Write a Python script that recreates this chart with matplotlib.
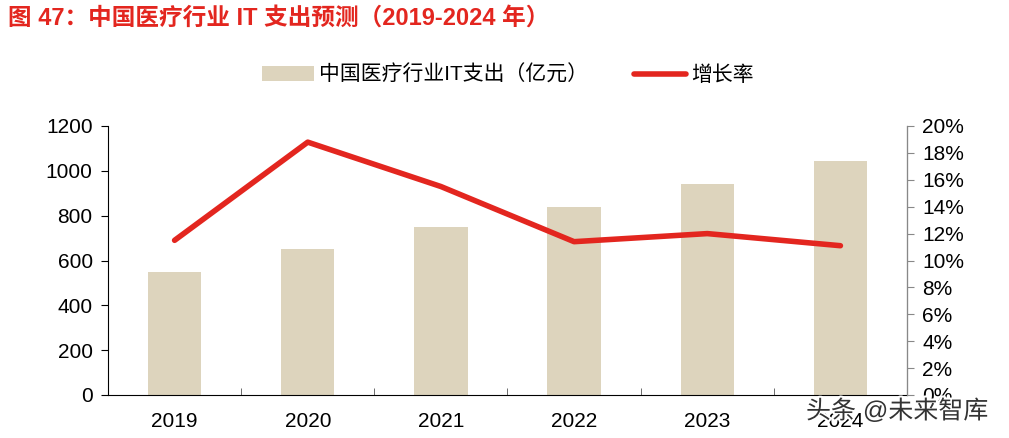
import matplotlib.pyplot as plt
import matplotlib.patheffects as pe
from matplotlib.ticker import PercentFormatter

plt.rcParams['font.family'] = ['Liberation Sans', 'Noto Sans CJK SC']

years = ['2019', '2020', '2021', '2022', '2023', '2024']
spend = [550, 650, 750, 838, 940, 1042]
growth = [11.5, 18.8, 15.5, 11.4, 12.0, 11.1]

fig = plt.figure(figsize=(10.09, 4.38), dpi=100)
ax = fig.add_axes([108 / 1009, 1 - 395 / 438, 799 / 1009, 269 / 438])
ax2 = ax.twinx()

x = range(len(years))
ax.bar(x, spend, width=0.4, color='#ddd4bd', label='中国医疗行业IT支出（亿元）', zorder=2)
ax2.plot(x, growth, color='#e3261f', lw=4, solid_capstyle='round', label='增长率')

ax.set_xlim(-0.5, 5.5)
ax.set_ylim(0, 1200)
ax.set_yticks(range(0, 1201, 200))
ax2.set_ylim(0, 20)
ax2.set_yticks(range(0, 21, 2))
ax2.yaxis.set_major_formatter(PercentFormatter(decimals=0))

ax.set_xticks(list(x))
ax.set_xticklabels(years)
ax.set_xticks([i + 0.5 for i in range(5)], minor=True)
ax.tick_params(axis='x', which='major', length=0, pad=12, labelsize=15)
ax.tick_params(axis='x', which='minor', direction='in', length=5, color='#555555')
ax.tick_params(axis='y', direction='out', length=5, labelsize=15, pad=6)
ax2.tick_params(axis='y', direction='out', length=5, color='#888888', labelsize=15, pad=6)

for a in (ax, ax2):
    a.spines['top'].set_visible(False)
ax.spines['left'].set_color('black')
ax.spines['bottom'].set_color('black')
ax2.spines['left'].set_visible(False)
ax2.spines['bottom'].set_visible(False)
ax2.spines['right'].set_color('#888888')

h1, l1 = ax.get_legend_handles_labels()
h2, l2 = ax2.get_legend_handles_labels()
fig.legend(h1 + h2, l1 + l2, loc='center', bbox_to_anchor=(508 / 1009, 1 - 75 / 438),
           ncol=2, frameon=False, fontsize=15, handlelength=2.5, columnspacing=2.2,
           handletextpad=0.25)

fig.text(8 / 1009, 1 - 18 / 438, '图 47：中国医疗行业 IT 支出预测（2019-2024 年）',
         color='#e3261f', fontsize=17, fontweight='bold', va='center', ha='left')

fig.text(806 / 1009, 1 - 411 / 438, '头条 @未来智库', color='#333333', fontsize=18,
         va='center', ha='left',
         path_effects=[pe.withStroke(linewidth=3, foreground='white')])

fig.savefig('out.png', dpi=100)
